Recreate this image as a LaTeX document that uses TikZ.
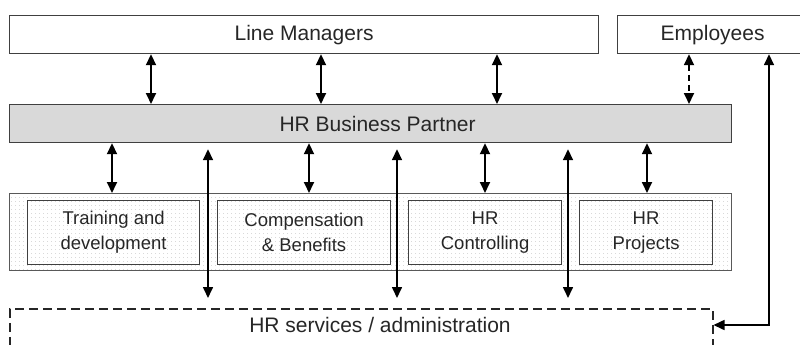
\documentclass[tikz,border=0pt]{standalone}
\usepackage{fontspec}
\setmainfont{Liberation Sans}
\usetikzlibrary{arrows.meta,patterns.meta}

\begin{document}
\begin{tikzpicture}[
    x=1pt, y=-1pt,
    box/.style={draw=black!75, line width=1.2pt, anchor=north west, inner sep=0pt,
      minimum height=38pt, text=black!85, font=\fontsize{21}{25}\selectfont},
    unit/.style={draw=black!75, line width=1.2pt, anchor=north west, inner sep=0pt,
      minimum height=64pt, align=center, text=black!85, font=\fontsize{18.5}{25}\selectfont},
    link/.style={{Triangle[width=10pt,length=11pt]}-{Triangle[width=10pt,length=11pt]}, line width=1.8pt},
  ]
  \useasboundingbox (0,0) rectangle (800,345);

  % Top row
  \node[box, minimum width=589pt] (lm) at (9,15) {Line Managers};
  \node[box, minimum width=190pt] (emp) at (617,15) {Employees};

  % HR Business Partner
  \node[box, minimum width=722pt, fill=black!15] (hrbp) at (9,104) {\hspace*{14pt}HR Business Partner};

  % HR units
  \node[draw=black!65, line width=1.2pt, anchor=north west, inner sep=0pt,
    minimum width=722pt, minimum height=77pt,
    pattern={Dots[distance=4pt,radius=0.45pt]}, pattern color=black!30] (grp) at (9,193) {};
  \node[unit, minimum width=172pt] (trn) at (27,200) {Training and\\development};
  \node[unit, minimum width=173pt] (cmp) at (217,200) {Compensation\\\& Benefits};
  \node[unit, minimum width=153pt] (ctl) at (408,200) {HR\\Controlling};
  \node[unit, minimum width=133pt] (prj) at (579,200) {HR\\Projects};

  % HR services
  \node[draw=black!85, line width=1.5pt, dash pattern=on 9pt off 5pt, anchor=north west,
    inner sep=0pt, minimum width=703pt, minimum height=50pt] (srv) at (9,308) {};
  \node[text=black!85, font=\fontsize{21}{25}\selectfont] (srvtext) at (380,325) {HR services / administration};

  % Line Managers -> HR Business Partner
  \foreach \x in {151,321,497}
    \draw[link] (\x,0 |- lm.south) -- (\x,0 |- hrbp.north);
  \draw[link, dash pattern=on 6pt off 4pt] (689,0 |- emp.south) -- (689,0 |- hrbp.north);

  % HR Business Partner -> HR units
  \foreach \x in {112,309,485,647}
    \draw[link] (\x,0 |- hrbp.south) -- (\x,0 |- grp.north);

  % HR Business Partner -> HR services
  \foreach \x in {208,397,568}
    \draw[link, line width=1.6pt, shorten <=6pt, shorten >=10pt] (\x,0 |- hrbp.south) -- (\x,0 |- srv.north);

  % Employees -> HR services
  \draw[link, line width=1.6pt] ([yshift=-17pt]srv.north east) -| (769,0 |- emp.south);

\end{tikzpicture}
\end{document}
